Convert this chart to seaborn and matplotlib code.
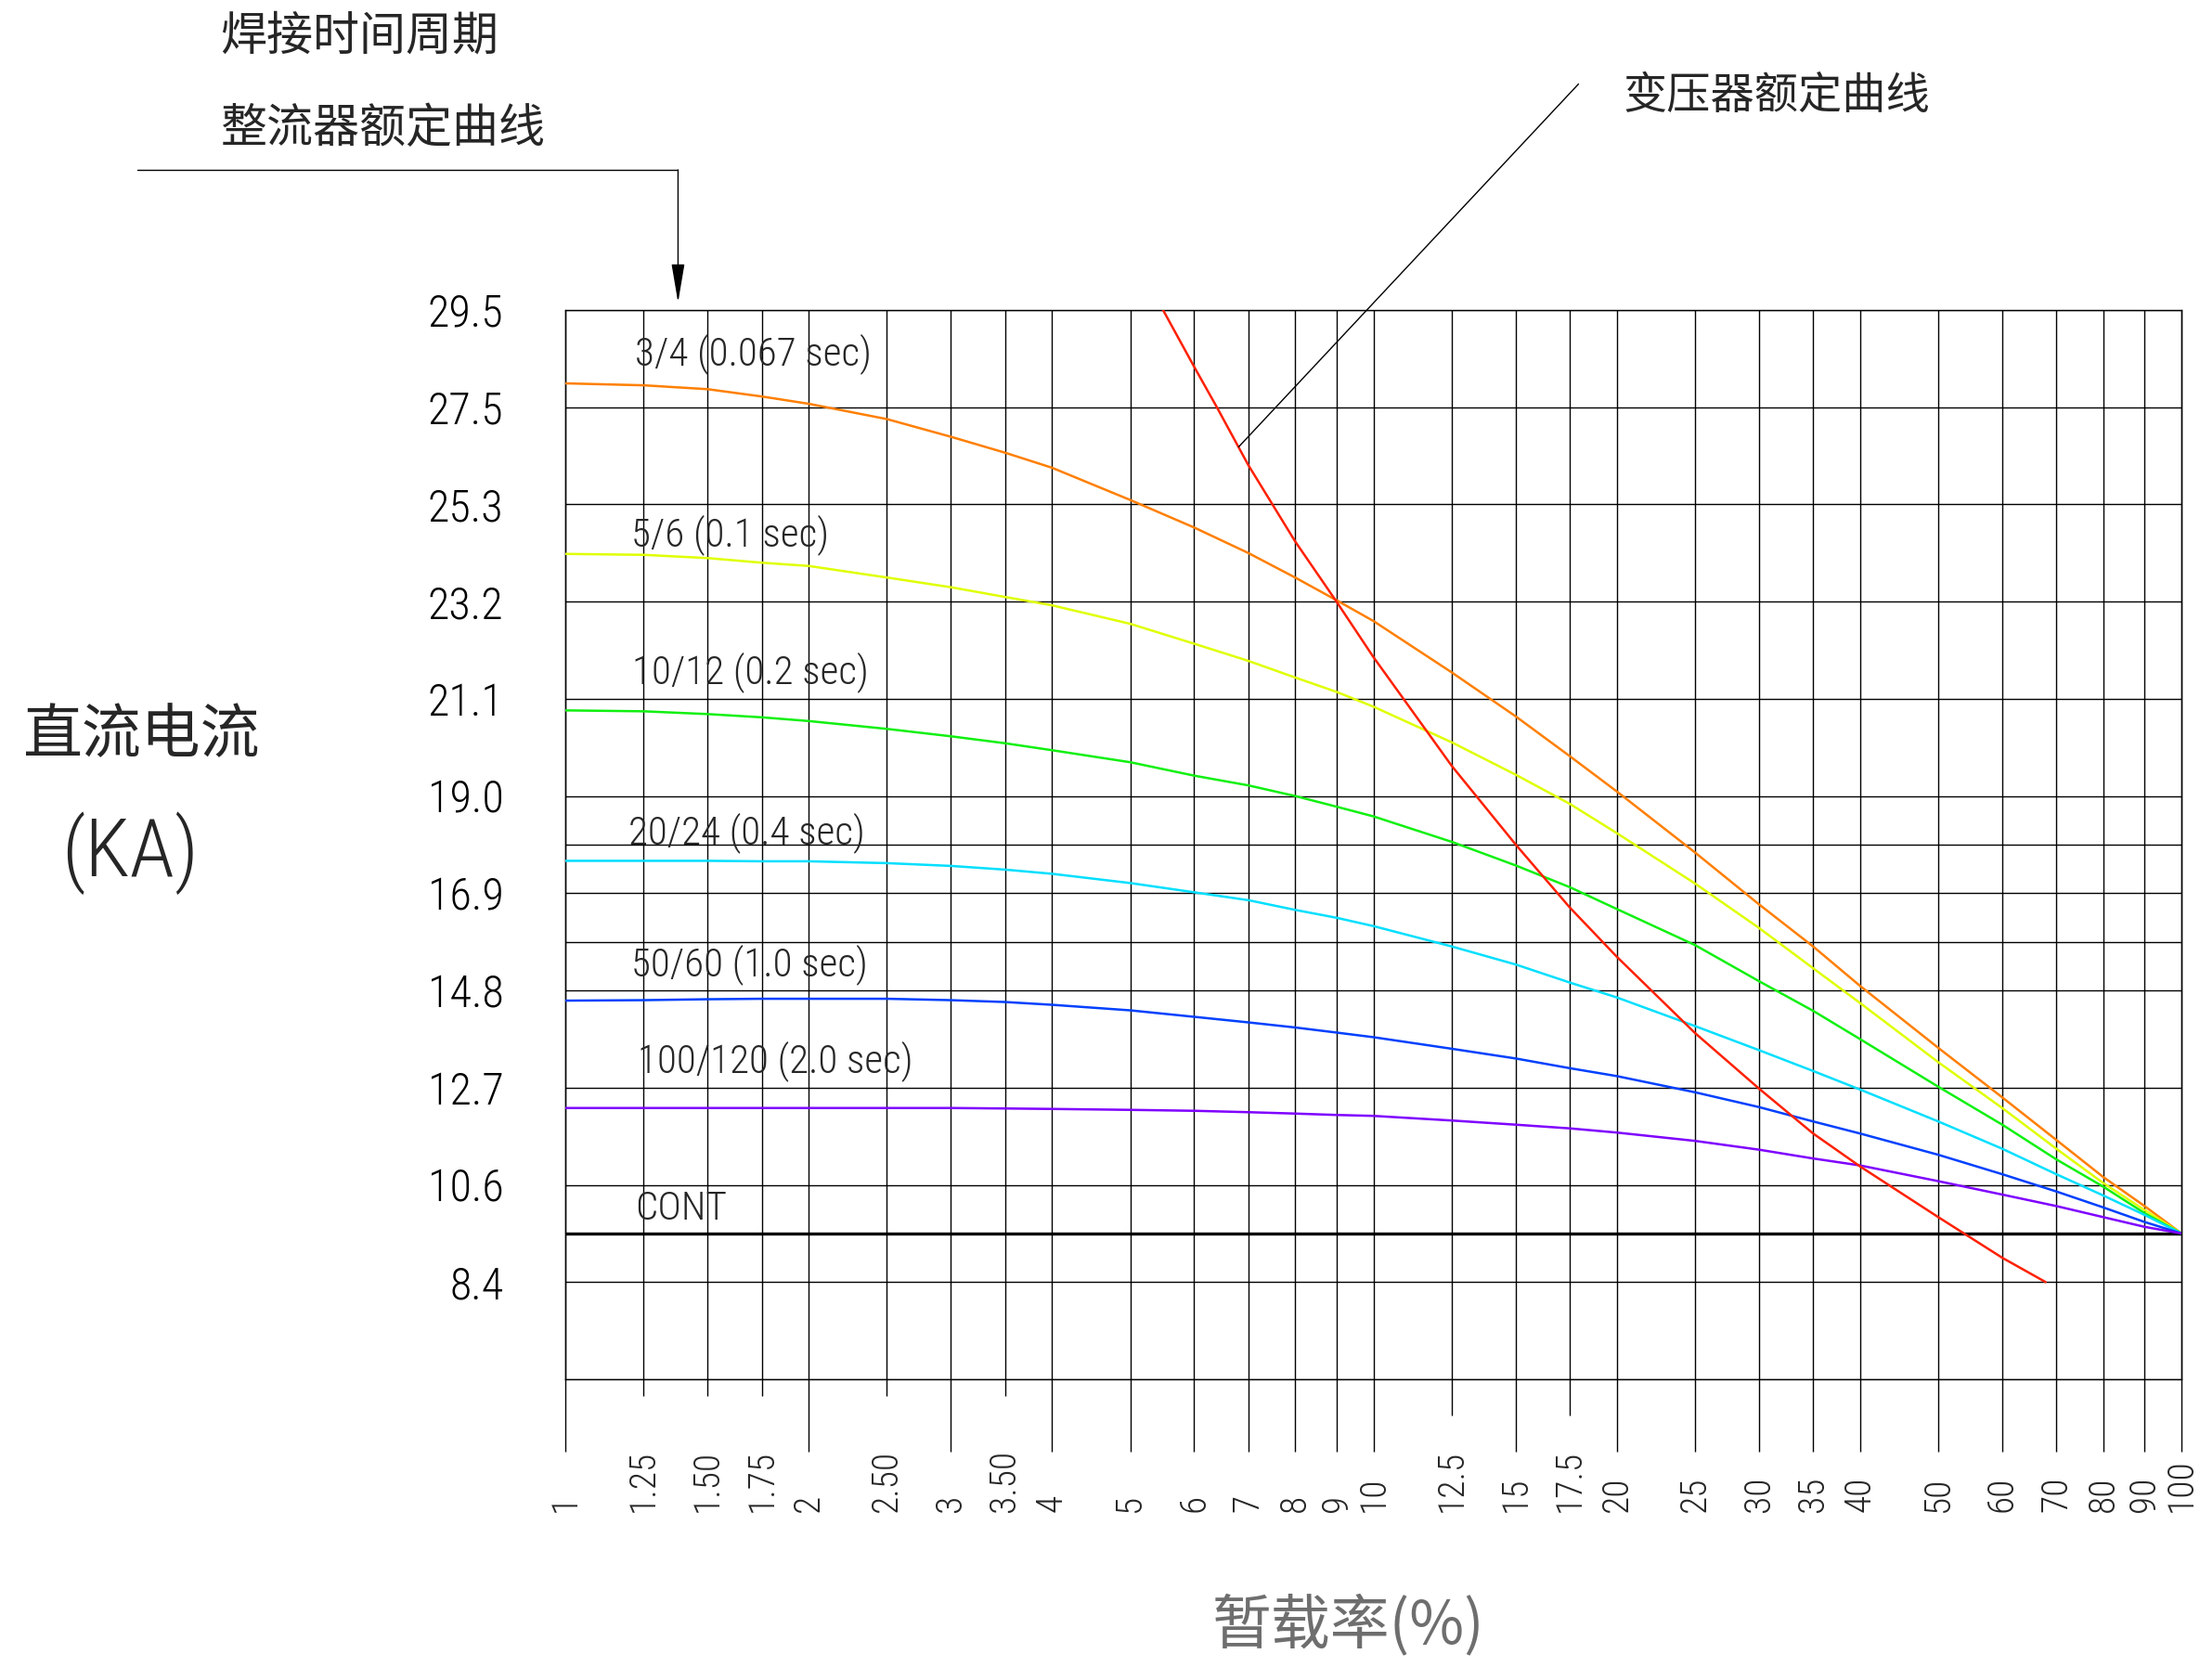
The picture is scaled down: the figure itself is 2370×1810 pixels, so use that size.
import numpy as np
import pandas as pd
import seaborn as sns
import matplotlib
matplotlib.use('Agg')
import matplotlib.pyplot as plt
from matplotlib import font_manager
from matplotlib.font_manager import FontProperties
from matplotlib.textpath import TextPath
from matplotlib.ticker import NullLocator

# duty cycle (%) columns used for reading the curves
duty = [1, 1.25, 1.5, 1.75, 2, 2.5, 3, 3.5, 4, 5, 6, 7, 8, 9, 10,
        12.5, 15, 17.5, 20, 25, 30, 35, 40, 50, 60, 70, 80, 90, 100]

# rectifier rating curves (KA)
c_3_4 = [27.99, 27.95, 27.87, 27.72, 27.57, 27.23, 26.83, 26.47, 26.13, 25.40, 24.80, 24.25, 23.72, 23.23, 22.78,
         21.67, 20.72, 19.86, 19.10, 17.78, 16.66, 15.75, 14.90, 13.56, 12.49, 11.57, 10.77, 10.12, 9.50]
c_5_6 = [24.23, 24.21, 24.14, 24.04, 23.97, 23.72, 23.51, 23.30, 23.12, 22.72, 22.29, 21.92, 21.56, 21.25, 20.93,
         20.16, 19.46, 18.83, 18.20, 17.11, 16.15, 15.28, 14.53, 13.25, 12.26, 11.38, 10.64, 10.03, 9.50]
c_10_12 = [20.85, 20.83, 20.77, 20.70, 20.62, 20.45, 20.29, 20.14, 19.99, 19.73, 19.44, 19.23, 19.00, 18.77, 18.56,
           18.01, 17.50, 17.03, 16.56, 15.78, 15.00, 14.36, 13.75, 12.72, 11.90, 11.15, 10.56, 9.96, 9.50]
c_20_24 = [17.60, 17.60, 17.60, 17.59, 17.59, 17.55, 17.49, 17.41, 17.32, 17.12, 16.92, 16.75, 16.54, 16.37, 16.19,
           15.75, 15.36, 14.97, 14.65, 14.03, 13.51, 13.06, 12.66, 11.97, 11.38, 10.83, 10.36, 9.92, 9.50]
c_50_60 = [14.58, 14.59, 14.61, 14.62, 14.62, 14.62, 14.59, 14.55, 14.49, 14.37, 14.23, 14.11, 14.00, 13.89, 13.79,
           13.54, 13.33, 13.12, 12.95, 12.60, 12.28, 11.97, 11.71, 11.25, 10.83, 10.45, 10.09, 9.76, 9.50]
c_100_120 = [12.26, 12.26, 12.26, 12.26, 12.26, 12.26, 12.26, 12.25, 12.24, 12.22, 12.20, 12.17, 12.14, 12.11, 12.09,
             11.99, 11.90, 11.82, 11.73, 11.55, 11.36, 11.17, 11.02, 10.68, 10.38, 10.12, 9.87, 9.65, 9.50]

# transformer rating curve
trafo_x = [5.49, 6, 6.4, 7, 8, 9, 10, 12.5, 15, 17.5, 20, 25, 30, 35, 40, 50, 60, 67.9]
trafo_y = [29.5, 28.33, 27.5, 26.19, 24.5, 23.2, 22.0, 19.65, 17.95, 16.59, 15.53, 13.88, 12.68, 11.71, 11.0, 9.87, 8.95, 8.4]

series_names = ['3/4 (0.067 sec)', '5/6 (0.1 sec)', '10/12 (0.2 sec)', '20/24 (0.4 sec)',
                '50/60 (1.0 sec)', '100/120 (2.0 sec)']
series_vals = [c_3_4, c_5_6, c_10_12, c_20_24, c_50_60, c_100_120]
series_colors = ['#FF7F00', '#DFFF00', '#10F010', '#00DFFF', '#0040FF', '#7F00FF']
# label anchor (x, KA)
label_x = [1.22, 1.207, 1.21, 1.197, 1.207, 1.23]
label_y = [28.6, 24.65, 21.67, 18.2, 15.37, 13.27]

cont_val = 9.5

# axis ticks
y_labels = [29.5, 27.5, 25.3, 23.2, 21.1, 19.0, 16.9, 14.8, 12.7, 10.6, 8.4]
y_bottom = 6.3
x_ticks = [1, 1.25, 1.5, 1.75, 2, 2.5, 3, 3.5, 4, 5, 6, 7, 8, 9, 10,
           12.5, 15, 17.5, 20, 25, 30, 35, 40, 50, 60, 70, 80, 90, 100]
x_ticklabels = ['1', '1.25', '1.50', '1.75', '2', '2.50', '3', '3.50', '4', '5', '6', '7', '8', '9', '10',
                '12.5', '15', '17.5', '20', '25', '30', '35', '40', '50', '60', '70', '80', '90', '100']

rows = []
for name, vals in zip(series_names, series_vals):
    for x, y in zip(duty, vals):
        rows.append((name, x, y))
for x, y in zip(trafo_x, trafo_y):
    rows.append(('trafo', x, y))
df = pd.DataFrame(rows, columns=['series', 'duty', 'ka'])
palette = dict(zip(series_names, series_colors))
palette['trafo'] = '#FF2000'

sns.set_style('white')
CJK = ['Noto Sans CJK SC', 'DejaVu Sans']
plt.rcParams['font.family'] = ['DejaVu Sans']


# narrow, thin font for the numbers (CAD look), if one is installed
def pick_narrow():
    fam_rank = ['Liberation Sans Narrow', 'Roboto', 'Noto Sans', 'Open Sans', 'DejaVu Sans', 'Lato', 'Inter']
    best = None
    for f in font_manager.fontManager.ttflist:
        nm, st = f.name, str(f.stretch)
        if f.style != 'normal' or 'Mono' in nm or 'Serif' in nm or 'CJK' in nm:
            continue
        if not ('Narrow' in nm or 'Condensed' in nm or st in ('condensed', 'semi-condensed')):
            continue
        w = f.weight if isinstance(f.weight, int) else font_manager.weight_dict.get(f.weight, 400)
        rank = next((i for i, r in enumerate(fam_rank) if nm.startswith(r)), len(fam_rank))
        key = (rank, abs(w - 330))
        if best is None or key < best[0]:
            best = (key, f.fname)
    if best is None:
        return FontProperties(family='DejaVu Sans')
    return FontProperties(fname=best[1])


NUMF = pick_narrow()


def sized(sample, target_px):
    # font size (pt) giving the sample text the wanted width in pixels at dpi 100
    w = TextPath((0, 0), sample, size=100, prop=NUMF).get_extents().width
    p = NUMF.copy()
    p.set_size(100 * target_px * 0.72 / w)
    return p


f_curve = sized('3/4 (0.067 sec)', 250)
f_ytick = sized('29.5', 77)
f_xtick = sized('12.5', 62)
f_ka = sized('(KA)', 136)

# y axis: labelled values are drawn evenly spaced
grid_vals = y_labels + [y_bottom]
xp = np.array(grid_vals[::-1], dtype=float)
fp = -np.arange(len(grid_vals))[::-1].astype(float)


def interp_ext(v, a, b):
    v = np.asarray(v, dtype=float)
    out = np.interp(v, a, b)
    s0 = (b[1] - b[0]) / (a[1] - a[0])
    s1 = (b[-1] - b[-2]) / (a[-1] - a[-2])
    out = np.where(v < a[0], b[0] + (v - a[0]) * s0, out)
    out = np.where(v > a[-1], b[-1] + (v - a[-1]) * s1, out)
    return out


fig = plt.figure(figsize=(23.7, 18.1), dpi=100)
ax = fig.add_axes([0.257, 0.179, 0.7346, 0.6365])
ax.set_xscale('log')
ax.set_yscale('function', functions=(lambda v: interp_ext(v, xp, fp), lambda k: interp_ext(k, fp, xp)))
ax.set_xlim(1, 100)
ax.set_ylim(y_bottom, y_labels[0])

sns.lineplot(data=df, x='duty', y='ka', hue='series', palette=palette, estimator=None,
             lw=1.8, legend=False, ax=ax, zorder=3)

# horizontal lines across the chart
half_vals = [(a + b) / 2 for a, b in zip(y_labels[:-1], y_labels[1:])]
full_lines = y_labels + [y_bottom, half_vals[5], half_vals[6]]
for v in full_lines:
    ax.axhline(v, color='black', lw=1.0, zorder=1)
ax.axhline(cont_val, color='black', lw=2.4, zorder=2)

yt = sorted(y_labels + half_vals + [y_bottom])
ax.set_yticks(yt)
ax.set_yticklabels([f'{v:.1f}' if v in y_labels else '' for v in yt])
ax.yaxis.set_minor_locator(NullLocator())
ax.tick_params(axis='y', length=24, width=1.0, direction='out', pad=24, colors='black')
for lab in ax.get_yticklabels():
    lab.set_fontproperties(f_ytick)

# vertical lines, running past the bottom edge
long_ext, mid_ext, short_ext = 0.068, 0.034, 0.016
ext = []
for t in x_ticks:
    if t in (1.25, 1.5, 1.75, 2.5, 3.5):
        ext.append(-short_ext)
    elif t in (12.5, 17.5):
        ext.append(-mid_ext)
    else:
        ext.append(-long_ext)
ax.vlines(x_ticks, ext, 1, transform=ax.get_xaxis_transform(), colors='black', lw=1.0,
          clip_on=False, zorder=1)
ax.set_xticks([])
ax.xaxis.set_minor_locator(NullLocator())
for t, lab in zip(x_ticks, x_ticklabels):
    ax.text(t, -0.124, lab, transform=ax.get_xaxis_transform(), rotation=90,
            ha='center', va='bottom', fontproperties=f_xtick)

for s in ax.spines.values():
    s.set_visible(True)
    s.set_color('black')
    s.set_linewidth(1.0)
ax.set_xlabel('')
ax.set_ylabel('')

# curve labels
for name, lx, ly in zip(series_names, label_x, label_y):
    ax.text(lx, ly, name, ha='left', va='center', zorder=4, fontproperties=f_curve)
ax.text(1.22, 10.05, 'CONT', ha='left', va='center', zorder=4, fontproperties=f_curve)

# axis titles
fig.text(0.064, 0.562, '直流电流', family=CJK, fontsize=46, fontweight='light', ha='center', va='center')
fig.text(0.059, 0.492, '(KA)', ha='center', va='center', fontproperties=f_ka)
fig.text(0.6128, 0.032, '暂载率(%)', family=CJK, fontsize=46, fontweight='light', ha='center', va='center',
         color='#6e6e6e')

# rectifier leader
fig.text(0.100, 0.978, '焊接时间周期', family=CJK, fontsize=36, fontweight='light', ha='left', va='center')
fig.text(0.100, 0.923, '整流器额定曲线', family=CJK, fontsize=36, fontweight='light', ha='left', va='center')
fig.add_artist(plt.Line2D([0.0624, 0.3082], [0.8989, 0.8989], color='black', lw=1.0))
ax.annotate('', xy=(0.3082, 0.8200), xycoords='figure fraction',
            xytext=(0.3082, 0.8989), textcoords='figure fraction',
            arrowprops=dict(arrowstyle='-|>,head_length=1.3,head_width=0.22', mutation_scale=20,
                            color='black', lw=1.0, shrinkA=0, shrinkB=0))

# transformer leader
fig.text(0.738, 0.9425, '变压器额定曲线', family=CJK, fontsize=34, fontweight='light', ha='left', va='center')
ax.annotate('', xy=(6.81, 26.6), xycoords='data',
            xytext=(0.7175, 0.950), textcoords='figure fraction',
            arrowprops=dict(arrowstyle='-', color='black', lw=1.0, shrinkA=0, shrinkB=0))

fig.savefig('out.png', dpi=100)
